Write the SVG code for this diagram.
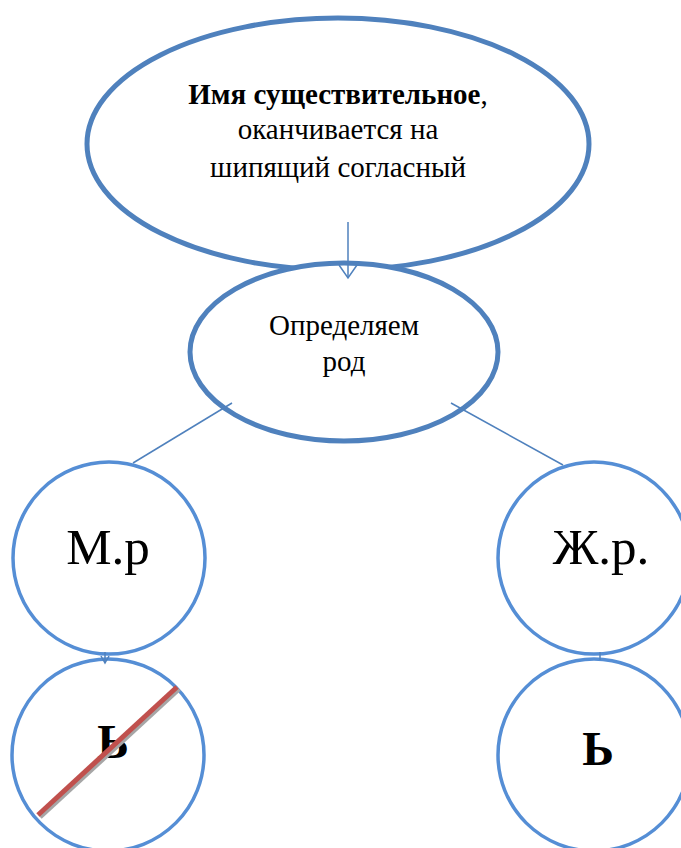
<svg xmlns="http://www.w3.org/2000/svg" width="681" height="848" viewBox="0 0 681 848">
<style>
.big{fill:#fff;stroke:#4f81bd;stroke-width:5}
.circ{fill:#fff;stroke:#558ed5;stroke-width:3.5}
.t{font-family:'Liberation Serif','Times New Roman',serif;fill:#000;text-anchor:middle}
.s1{font-size:29px}
.s2{font-size:51px}
.s3{font-size:48px;font-weight:bold}
.con{stroke:#4f81bd;stroke-width:1.5;fill:none}
</style>
<rect width="681" height="848" fill="#fff"/>
<g id="node-top">
<ellipse class="big" cx="338" cy="144" rx="251" ry="126"/>
<text class="t s1" x="338" y="104"><tspan font-weight="bold">Имя существительное</tspan>,</text>
<text class="t s1" x="338" y="139">оканчивается на</text>
<text class="t s1" x="338" y="177">шипящий согласный</text>
</g>
<g id="node-rod">
<ellipse class="big" cx="344" cy="352" rx="154" ry="89"/>
<text class="t s1" x="344" y="335">Определяем</text>
<text class="t s1" x="344" y="371">род</text>
</g>
<g id="node-m">
<circle class="circ" cx="109" cy="558" r="96"/>
<text class="t s2" x="108" y="564">М.р</text>
</g>
<g id="node-zh">
<circle class="circ" cx="594" cy="558" r="96"/>
<text class="t s2" x="601" y="564">Ж.р.</text>
</g>
<g id="node-m-soft">
<circle class="circ" cx="108" cy="755" r="96"/>
<text class="t s3" x="113" y="758">Ь</text>
<line x1="40" y1="817" x2="179" y2="689" stroke="#a6a6a6" stroke-width="5"/>
<line x1="38" y1="815" x2="177" y2="687" stroke="#c0504d" stroke-width="5"/>
</g>
<g id="node-zh-soft">
<circle class="circ" cx="594" cy="755" r="96"/>
<text class="t s3" x="598" y="765">Ь</text>
</g>
<g id="connectors">
<line class="con" x1="348" y1="222" x2="348" y2="277"/>
<polyline class="con" points="339,265 348,278 357,265"/>
<line class="con" x1="232" y1="403" x2="133" y2="463"/>
<line class="con" x1="451" y1="403" x2="563" y2="465"/>
<line class="con" x1="105" y1="652" x2="105" y2="662"/>
<polyline class="con" points="101,656 105,663 109,656"/>
<line class="con" x1="600" y1="652" x2="600" y2="660"/>
</g>
</svg>
